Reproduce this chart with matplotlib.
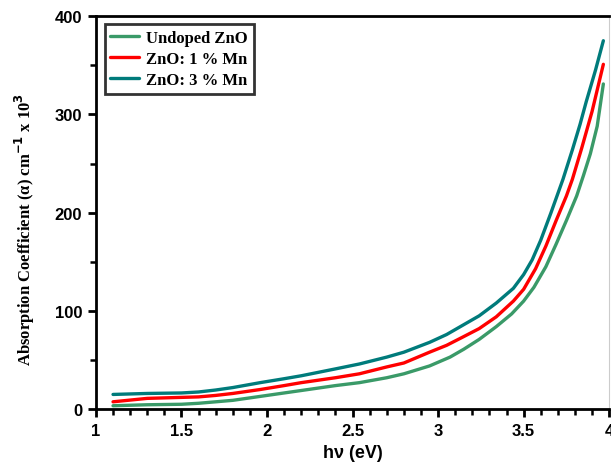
import matplotlib
matplotlib.use("Agg")
import matplotlib.pyplot as plt
from matplotlib.ticker import MultipleLocator

# ---------- data ----------
x_undoped = [1.10, 1.30, 1.50, 1.60, 1.70, 1.80, 1.96, 2.10, 2.20, 2.40, 2.54, 2.70, 2.80, 2.95, 3.07, 3.15, 3.24,
             3.34, 3.43, 3.50, 3.56, 3.63, 3.69, 3.75, 3.81, 3.85, 3.89, 3.93, 3.966]
y_undoped = [3.5, 4.5, 5, 6, 7.5, 9, 13, 16.5, 19, 24, 27, 32, 36, 44, 53, 61, 71,
             84, 97, 110, 124, 145, 168, 192, 217, 238, 260, 288, 331]

x_mn1 = [1.10, 1.30, 1.50, 1.60, 1.70, 1.80, 1.96, 2.10, 2.20, 2.40, 2.54, 2.70, 2.80, 2.95, 3.05, 3.14, 3.24,
         3.34, 3.44, 3.50, 3.57, 3.63, 3.69, 3.75, 3.785, 3.84, 3.90, 3.966]
y_mn1 = [7.5, 11, 12, 12.5, 14, 16, 20, 24, 27, 32, 36, 43, 47, 58, 65, 73, 82,
         94, 110, 122, 143, 166, 192, 217, 234, 266, 303, 351]

x_mn3 = [1.10, 1.30, 1.50, 1.60, 1.70, 1.80, 1.96, 2.10, 2.20, 2.40, 2.54, 2.70, 2.80, 2.95, 3.05, 3.14, 3.24,
         3.34, 3.44, 3.50, 3.55, 3.60, 3.66, 3.73, 3.785, 3.83, 3.866, 3.92, 3.966]
y_mn3 = [15, 16, 16.5, 17.5, 19.5, 22, 27, 31, 34, 41, 46, 53, 58, 68, 76, 85, 95,
         108, 123, 137, 152, 172, 200, 234, 264, 290, 313, 345, 375]

labels = ["Undoped ZnO", "ZnO: 1 % Mn", "ZnO: 3 % Mn"]
colors = ["#3a9a68", "#ff0000", "#007b7b"]

fig = plt.figure(figsize=(6.11, 4.64), dpi=100)
ax = fig.add_axes([0.157, 0.116, 0.840, 0.847])

for xs, ys, lab, c in zip([x_undoped, x_mn1, x_mn3], [y_undoped, y_mn1, y_mn3], labels, colors):
    ax.plot(xs, ys, color=c, lw=2.4, label=lab, solid_capstyle="round", solid_joinstyle="round")

ax.set_xlim(1, 4)
ax.set_ylim(0, 400)
ax.xaxis.set_major_locator(MultipleLocator(0.5))
ax.xaxis.set_minor_locator(MultipleLocator(0.1))
ax.yaxis.set_major_locator(MultipleLocator(100))
ax.yaxis.set_minor_locator(MultipleLocator(50))
ax.xaxis.set_major_formatter(plt.FuncFormatter(lambda v, p: f"{v:g}"))

for side in ["left", "bottom", "top"]:
    ax.spines[side].set_linewidth(2.0)
ax.spines["right"].set_linewidth(0.8)
ax.spines["right"].set_color("#cccccc")

ax.tick_params(axis="both", which="major", direction="out", length=6, width=2.0,
               labelsize=12, pad=4)
ax.tick_params(axis="both", which="minor", direction="out", length=4, width=1.8)
ax.tick_params(axis="y", which="both", right=False)
ax.tick_params(axis="x", which="both", top=False)
for lbl in ax.get_xticklabels() + ax.get_yticklabels():
    lbl.set_fontweight("bold")
    lbl.set_family("Liberation Sans")

ax.set_xlabel("h\u03bd (eV)", fontsize=13, fontweight="bold", family="Liberation Sans", labelpad=4)
ax.set_ylabel("Absorption Coefficient (\u03b1) cm$^{\\mathbf{-1}}$ x 10$^{\\mathbf{3}}$",
              fontsize=12, fontweight="bold", family="Liberation Serif", labelpad=8)
ax.yaxis.set_label_coords(-0.115, 0.46)

leg = ax.legend(loc="upper left", bbox_to_anchor=(0.017, 0.98), borderaxespad=0,
                frameon=True, fancybox=False,
                handlelength=1.7, handletextpad=0.45, borderpad=0.35, labelspacing=0.3,
                prop={"family": "Liberation Serif", "weight": "bold", "size": 12})
leg.get_frame().set_edgecolor("black")
leg.get_frame().set_linewidth(2.0)

fig.savefig("out.png", dpi=100)
